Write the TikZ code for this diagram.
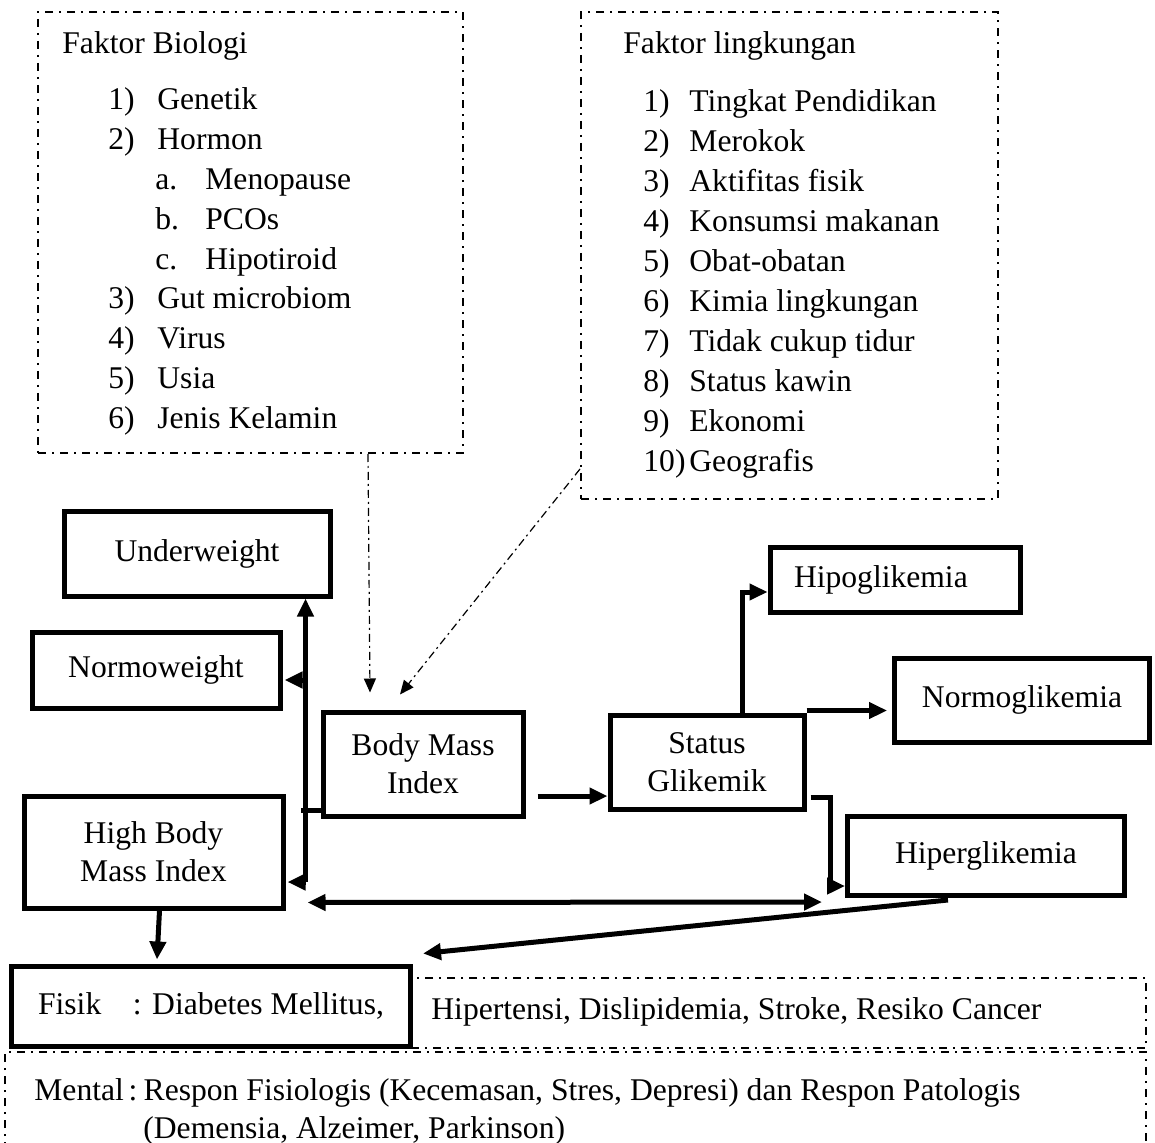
\documentclass[tikz,border=0pt]{standalone}
\usepackage{fontspec}
\setmainfont{Liberation Serif}
\usetikzlibrary{arrows.meta,calc}

\tikzset{
  thickbox/.style={draw,line width=2.5pt,align=center,inner sep=0pt},
  factorbox/.style={draw,line width=1pt,dash pattern=on 4pt off 3pt on 1pt off 3pt},
  arr/.style={line width=2.5pt,-{Triangle[length=9pt,width=8pt]}},
  thinarr/.style={line width=0.6pt,dash pattern=on 4pt off 2pt on 1pt off 2pt,-{Triangle[length=7pt,width=6pt]}},
  item/.style={anchor=base west,inner sep=0pt},
}

\begin{document}
\begin{tikzpicture}[x=0.5pt,y=-0.5pt,font=\fontsize{15.8}{19}\selectfont]
\useasboundingbox (0,0) rectangle (1155,1143);

% factor boxes
\node[factorbox,minimum width=212.5pt,minimum height=220.5pt] (fb) at (250.5,232.5) {};
\node[item] (fbtitle) at (62,54) {Faktor Biologi};
\foreach \n/\t/\y [count=\i] in {1)/Genetik/110, 2)/Hormon/150, 3)/Gut microbiom/309, 4)/Virus/349, 5)/Usia/389, 6)/Jenis Kelamin/429}{
  \node[item] (fbn\i) at (108,\y) {\n};
  \node[item] (fbt\i) at (157,\y) {\t};
}
\foreach \n/\t/\y [count=\i] in {a./Menopause/190, b./PCOs/230, c./Hipotiroid/270}{
  \node[item] (fbs\i) at (155,\y) {\n};
  \node[item] (fbst\i) at (205,\y) {\t};
}

\node[factorbox,minimum width=208.5pt,minimum height=243.5pt] (fl) at (789.5,255.5) {};
\node[item] (fltitle) at (623,54) {Faktor lingkungan};
\foreach \n/\t [count=\i] in {1)/Tingkat Pendidikan, 2)/Merokok, 3)/Aktifitas fisik, 4)/Konsumsi makanan, 5)/Obat-obatan, 6)/Kimia lingkungan, 7)/Tidak cukup tidur, 8)/Status kawin, 9)/Ekonomi, 10)/Geografis}{
  \node[item] (fln\i) at (643,72+40*\i) {\n};
  \node[item] (flt\i) at (689,72+40*\i) {\t};
}

% main boxes
\node[thickbox,minimum width=133pt,minimum height=42pt] (uw) at (197,554) {Underweight};
\node[thickbox,minimum width=124pt,minimum height=38pt] (nw) at (156,670) {Normoweight};
\node[thickbox,minimum width=100pt,minimum height=52pt] (bmi) at (423,764) {Body Mass\\Index};
\node[thickbox,minimum width=129.5pt,minimum height=56pt] (hbmi) at (153.5,852) {High Body\\Mass Index};
\node[thickbox,minimum width=97pt,minimum height=47pt] (sg) at (707,762) {Status\\Glikemik};
\node[thickbox,minimum width=125pt,minimum height=32.5pt,text width=101pt,align=left] (hipo) at (895,580) {Hipoglikemia};
\node[thickbox,minimum width=127.5pt,minimum height=42pt] (normo) at (1022,700) {Normoglikemia};
\node[thickbox,minimum width=138.5pt,minimum height=39.5pt] (hg) at (986,856) {Hiperglikemia};

% outcome boxes
\node[factorbox,minimum width=367.5pt,minimum height=35pt] (fisikrest) at (778.5,1013) {};
\node[item] (fisiktxt) at (431,1019) {Hipertensi, Dislipidemia, Stroke, Resiko Cancer};
\node[thickbox,minimum width=199.5pt,minimum height=40pt] (fisik) at (211,1006) {Fisik\hspace{1em}: Diabetes Mellitus,};
\draw[factorbox] (5,1150) -- (5,1052) -- (1146,1052) -- (1146,1150);
\node[item] (mental1) at (34,1100) {Mental\hspace{0.15em}:\hspace{0.2em}Respon Fisiologis (Kecemasan, Stres, Depresi) dan Respon Patologis};
\node[item] (mental2) at (143,1138) {(Demensia, Alzeimer, Parkinson)};

% factors to BMI
\draw[thinarr] ($(fb.south)+(117.5,0)$) -- ($(bmi.north)+(-53,-17)$);
\draw[thinarr] ($(fl.south west)+(0,-31)$) -- ($(bmi.north)+(-23,-15)$);

% BMI categories
\draw[line width=2.5pt] ($(bmi.south west)+(0,-8)$) -- ($(bmi.south west)+(-20,-8)$);
\draw[arr] ($(hbmi.east)+(20,30)$) -- ($(uw.south east)+(-27,0)$);
\draw[arr] ($(nw.east)+(23,10)$) -- ($(nw.east)+(2,10)$);
\draw[arr] ($(hbmi.east)+(20,30)$) -- ($(hbmi.east)+(2,30)$);
\draw[arr,{Triangle[length=9pt,width=8pt]}-{Triangle[length=9pt,width=8pt]}] ($(hbmi.south east)+(22,-8)$) -- ($(hg.south west)+(-23,4)$);

% glycemic status
\coordinate (sgne) at ($(sg.north east)+(0,-2)$);
\draw[arr] ($(bmi.east)+(12,32)$) -- ($(sg.west)+(0,34)$);
\draw[arr] ($(sg.north)+(35,0)$) |- ($(hipo.west)+(0,12)$);
\draw[arr,shorten >=2.5pt] (sgne) -- (sgne -| normo.west);
\draw[arr] ($(sg.east)+(4,35)$) -- ++(20,0) |- ($(hg.west)+(0,30)$);

% to outcomes
\draw[arr] ($(hg.south)+(-38,2)$) -- ($(fisik.north east)+(10,-10)$);
\draw[arr] ($(hbmi.south)+(6,0)$) -- ($(fisik.north west)+(148,-4)$);
\end{tikzpicture}
\end{document}
